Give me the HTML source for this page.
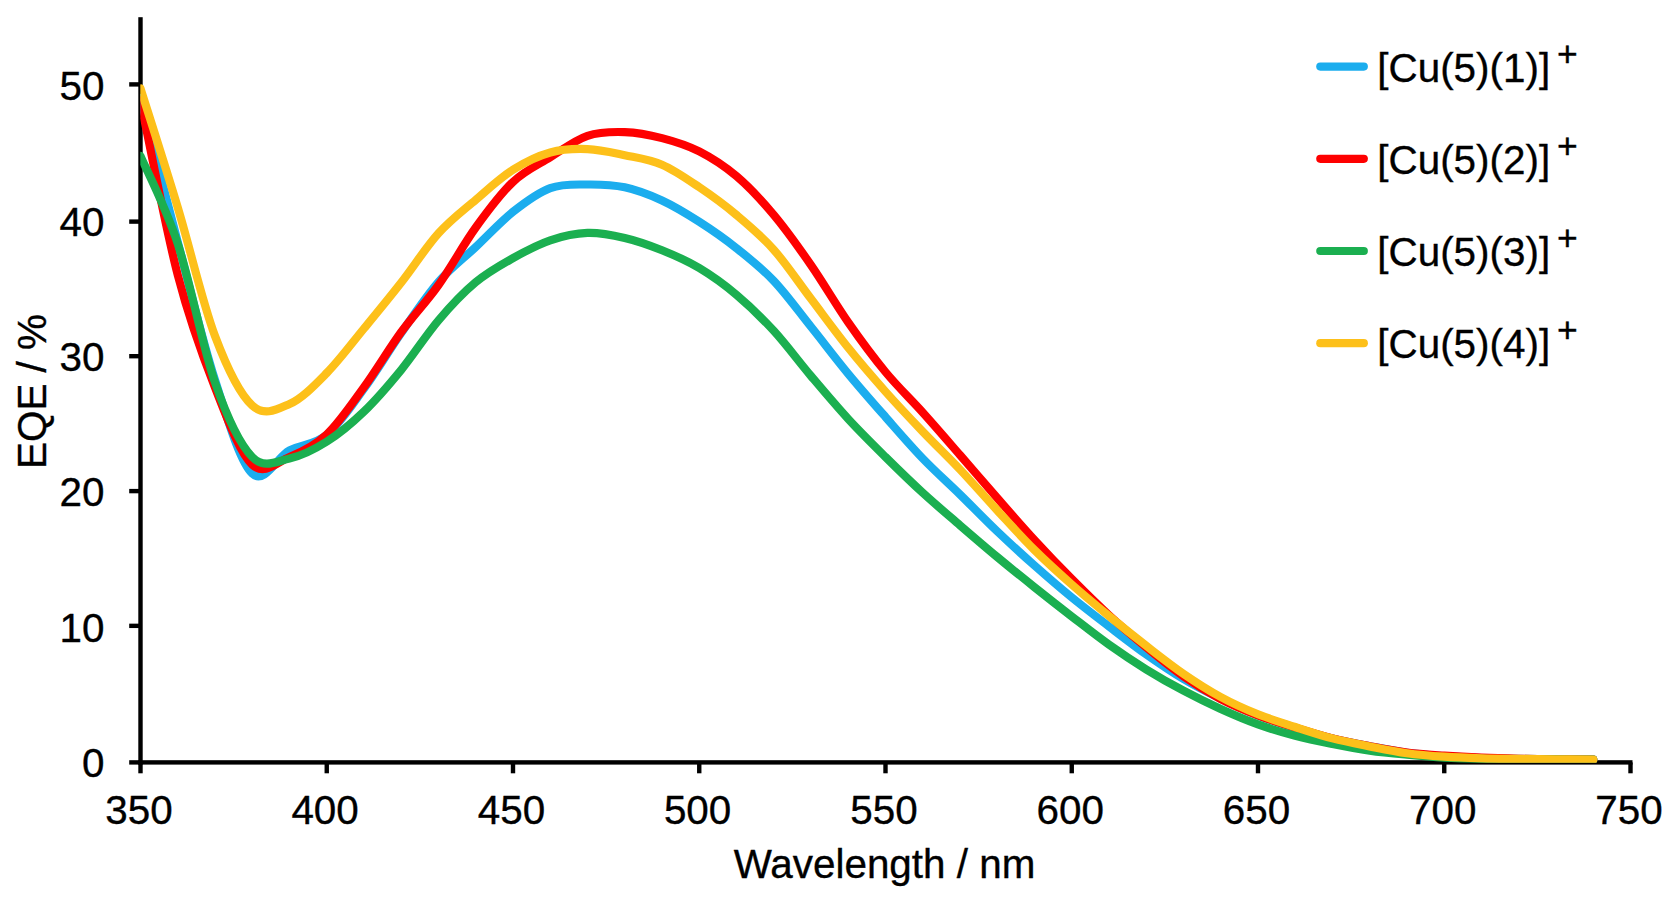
<!DOCTYPE html>
<html lang="en"><head><meta charset="utf-8"><title>EQE spectra</title>
<style>
html,body{margin:0;padding:0;background:#fff;}
body{width:1676px;height:900px;overflow:hidden;}
svg{display:block;}
text{font-family:"Liberation Sans", Arial, Helvetica, sans-serif;font-size:40.4px;fill:#000;stroke:#000;stroke-width:0.35px;}
.c{fill:none;stroke-width:8.2;stroke-linecap:round;stroke-linejoin:round;}
</style></head><body>
<svg width="1676" height="900" viewBox="0 0 1676 900">
<rect x="0" y="0" width="1676" height="900" fill="#fff"/>
<defs><clipPath id="pa"><rect x="140.3" y="0" width="1600" height="762.7"/></clipPath></defs>
<g fill="#000">
<rect x="138.30" y="17.2" width="4.40" height="747.40"/>
<rect x="138.30" y="760.20" width="1494.20" height="4.40"/>
<rect x="129.2" y="760.20" width="11.30" height="4.40"/>
<rect x="129.2" y="623.65" width="11.30" height="4.40"/>
<rect x="129.2" y="488.90" width="11.30" height="4.40"/>
<rect x="129.2" y="354.00" width="11.30" height="4.40"/>
<rect x="129.2" y="219.40" width="11.30" height="4.40"/>
<rect x="129.2" y="82.20" width="11.30" height="4.40"/>
<rect x="138.30" y="762.40" width="4.40" height="10.90"/>
<rect x="324.55" y="762.40" width="4.40" height="10.90"/>
<rect x="510.80" y="762.40" width="4.40" height="10.90"/>
<rect x="697.05" y="762.40" width="4.40" height="10.90"/>
<rect x="883.30" y="762.40" width="4.40" height="10.90"/>
<rect x="1069.55" y="762.40" width="4.40" height="10.90"/>
<rect x="1255.80" y="762.40" width="4.40" height="10.90"/>
<rect x="1442.05" y="762.40" width="4.40" height="10.90"/>
<rect x="1628.30" y="762.40" width="4.40" height="10.90"/>
</g>
<text x="104.5" y="776.9" text-anchor="end">0</text>
<text x="104.5" y="641.6" text-anchor="end">10</text>
<text x="104.5" y="506.3" text-anchor="end">20</text>
<text x="104.5" y="371.0" text-anchor="end">30</text>
<text x="104.5" y="235.7" text-anchor="end">40</text>
<text x="104.5" y="100.4" text-anchor="end">50</text>
<text x="138.9" y="824" text-anchor="middle">350</text>
<text x="325.1" y="824" text-anchor="middle">400</text>
<text x="511.4" y="824" text-anchor="middle">450</text>
<text x="697.6" y="824" text-anchor="middle">500</text>
<text x="883.9" y="824" text-anchor="middle">550</text>
<text x="1070.2" y="824" text-anchor="middle">600</text>
<text x="1256.4" y="824" text-anchor="middle">650</text>
<text x="1442.7" y="824" text-anchor="middle">700</text>
<text x="1628.9" y="824" text-anchor="middle">750</text>
<text x="884.5" y="878" text-anchor="middle">Wavelength / nm</text>
<text transform="translate(45.5 391.5) rotate(-90)" text-anchor="middle">EQE / %</text>
<g clip-path="url(#pa)">
<path class="c" stroke="#1BADEE" d="M140.50 98.00 C146.71 122.00 165.33 195.00 177.75 242.00 C190.17 289.00 202.58 341.42 215.00 380.00 C227.42 418.58 239.83 461.75 252.25 473.50 C264.67 485.25 277.08 456.92 289.50 450.50 C301.92 444.08 314.33 445.30 326.75 435.00 C339.17 424.70 351.58 405.70 364.00 388.70 C376.42 371.70 388.83 350.78 401.25 333.00 C413.67 315.22 426.08 296.33 438.50 282.00 C450.92 267.67 463.33 258.70 475.75 247.00 C488.17 235.30 500.58 221.62 513.00 211.80 C525.42 201.98 537.83 192.65 550.25 188.10 C562.67 183.55 575.08 184.63 587.50 184.50 C599.92 184.37 612.33 184.63 624.75 187.30 C637.17 189.97 649.58 194.75 662.00 200.50 C674.42 206.25 686.83 213.85 699.25 221.80 C711.67 229.75 724.08 238.35 736.50 248.20 C748.92 258.05 761.33 267.80 773.75 280.90 C786.17 294.00 798.58 311.32 811.00 326.80 C823.42 342.28 835.83 358.77 848.25 373.80 C860.67 388.83 873.08 402.88 885.50 417.00 C897.92 431.12 910.33 445.58 922.75 458.50 C935.17 471.42 947.58 482.35 960.00 494.50 C972.42 506.65 984.83 519.57 997.25 531.40 C1009.67 543.23 1022.08 554.50 1034.50 565.50 C1046.92 576.50 1059.33 587.23 1071.75 597.40 C1084.17 607.57 1096.58 616.98 1109.00 626.50 C1121.42 636.02 1133.83 645.73 1146.25 654.50 C1158.67 663.27 1171.08 671.72 1183.50 679.10 C1195.92 686.48 1208.33 692.75 1220.75 698.80 C1233.17 704.85 1245.58 710.57 1258.00 715.40 C1270.42 720.23 1282.83 723.95 1295.25 727.80 C1307.67 731.65 1320.08 735.43 1332.50 738.50 C1344.92 741.57 1357.33 743.82 1369.75 746.20 C1382.17 748.58 1394.58 751.13 1407.00 752.80 C1419.42 754.47 1431.83 755.32 1444.25 756.20 C1456.67 757.08 1469.08 757.65 1481.50 758.10 C1493.92 758.55 1506.33 758.70 1518.75 758.90 C1531.17 759.10 1543.58 759.17 1556.00 759.30 C1568.42 759.43 1587.04 759.63 1593.25 759.70"/>
<path class="c" stroke="#FE0000" d="M140.50 100.50 C146.71 129.58 165.33 227.17 177.75 275.00 C190.17 322.83 202.58 355.88 215.00 387.50 C227.42 419.12 239.83 453.12 252.25 464.70 C264.67 476.28 277.08 462.03 289.50 457.00 C301.92 451.97 314.33 446.13 326.75 434.50 C339.17 422.87 351.58 404.28 364.00 387.20 C376.42 370.12 388.83 349.03 401.25 332.00 C413.67 314.97 426.08 302.42 438.50 285.00 C450.92 267.58 463.33 244.68 475.75 227.50 C488.17 210.32 500.58 193.60 513.00 181.90 C525.42 170.20 537.83 164.98 550.25 157.30 C562.67 149.62 575.08 140.00 587.50 135.80 C599.92 131.60 612.33 131.72 624.75 132.10 C637.17 132.48 649.58 134.88 662.00 138.10 C674.42 141.32 686.83 145.05 699.25 151.40 C711.67 157.75 724.08 165.62 736.50 176.20 C748.92 186.78 761.33 200.08 773.75 214.90 C786.17 229.72 798.58 247.18 811.00 265.10 C823.42 283.02 835.83 304.58 848.25 322.40 C860.67 340.22 873.08 356.98 885.50 372.00 C897.92 387.02 910.33 398.67 922.75 412.50 C935.17 426.33 947.58 440.75 960.00 455.00 C972.42 469.25 984.83 483.83 997.25 498.00 C1009.67 512.17 1022.08 526.50 1034.50 540.00 C1046.92 553.50 1059.33 566.47 1071.75 579.00 C1084.17 591.53 1096.58 603.82 1109.00 615.20 C1121.42 626.58 1133.83 637.12 1146.25 647.30 C1158.67 657.48 1171.08 667.68 1183.50 676.30 C1195.92 684.92 1208.33 692.50 1220.75 699.00 C1233.17 705.50 1245.58 710.53 1258.00 715.30 C1270.42 720.07 1282.83 723.75 1295.25 727.60 C1307.67 731.45 1320.08 735.30 1332.50 738.40 C1344.92 741.50 1357.33 743.83 1369.75 746.20 C1382.17 748.57 1394.58 751.02 1407.00 752.60 C1419.42 754.18 1431.83 754.85 1444.25 755.70 C1456.67 756.55 1469.08 757.18 1481.50 757.70 C1493.92 758.22 1506.33 758.53 1518.75 758.80 C1531.17 759.07 1543.58 759.15 1556.00 759.30 C1568.42 759.45 1587.04 759.63 1593.25 759.70"/>
<path class="c" stroke="#1BAF50" d="M140.50 156.00 C146.71 170.62 165.33 205.95 177.75 243.70 C190.17 281.45 202.58 346.95 215.00 382.50 C227.42 418.05 239.83 444.35 252.25 457.00 C264.67 469.65 277.08 460.97 289.50 458.40 C301.92 455.83 314.33 449.42 326.75 441.60 C339.17 433.78 351.58 423.47 364.00 411.50 C376.42 399.53 388.83 385.00 401.25 369.80 C413.67 354.60 426.08 334.90 438.50 320.30 C450.92 305.70 463.33 292.57 475.75 282.20 C488.17 271.83 500.58 265.08 513.00 258.10 C525.42 251.12 537.83 244.50 550.25 240.30 C562.67 236.10 575.08 233.30 587.50 232.90 C599.92 232.50 612.33 235.02 624.75 237.90 C637.17 240.78 649.58 245.18 662.00 250.20 C674.42 255.22 686.83 260.57 699.25 268.00 C711.67 275.43 724.08 284.33 736.50 294.80 C748.92 305.27 761.33 317.27 773.75 330.80 C786.17 344.33 798.58 361.30 811.00 376.00 C823.42 390.70 835.83 405.50 848.25 419.00 C860.67 432.50 873.08 444.70 885.50 457.00 C897.92 469.30 910.33 481.42 922.75 492.80 C935.17 504.18 947.58 514.60 960.00 525.30 C972.42 536.00 984.83 546.68 997.25 557.00 C1009.67 567.32 1022.08 577.30 1034.50 587.20 C1046.92 597.10 1059.33 606.83 1071.75 616.40 C1084.17 625.97 1096.58 635.77 1109.00 644.60 C1121.42 653.43 1133.83 661.72 1146.25 669.40 C1158.67 677.08 1171.08 684.10 1183.50 690.70 C1195.92 697.30 1208.33 703.38 1220.75 709.00 C1233.17 714.62 1245.58 719.93 1258.00 724.40 C1270.42 728.87 1282.83 732.53 1295.25 735.80 C1307.67 739.07 1320.08 741.53 1332.50 744.00 C1344.92 746.47 1357.33 748.82 1369.75 750.60 C1382.17 752.38 1394.58 753.52 1407.00 754.70 C1419.42 755.88 1431.83 757.00 1444.25 757.70 C1456.67 758.40 1469.08 758.65 1481.50 758.90 C1493.92 759.15 1506.33 759.12 1518.75 759.20 C1531.17 759.28 1543.58 759.32 1556.00 759.40 C1568.42 759.48 1587.04 759.65 1593.25 759.70"/>
<path class="c" stroke="#FDC01A" d="M140.50 88.50 C146.71 108.33 165.33 166.25 177.75 207.50 C190.17 248.75 202.58 303.00 215.00 336.00 C227.42 369.00 239.83 394.17 252.25 405.50 C264.67 416.83 277.08 409.42 289.50 404.00 C301.92 398.58 314.33 385.58 326.75 373.00 C339.17 360.42 351.58 343.58 364.00 328.50 C376.42 313.42 388.83 298.37 401.25 282.50 C413.67 266.63 426.08 247.08 438.50 233.30 C450.92 219.52 463.33 210.38 475.75 199.80 C488.17 189.22 500.58 177.68 513.00 169.80 C525.42 161.92 537.83 155.95 550.25 152.50 C562.67 149.05 575.08 148.65 587.50 149.10 C599.92 149.55 612.33 152.60 624.75 155.20 C637.17 157.80 649.58 159.37 662.00 164.70 C674.42 170.03 686.83 178.82 699.25 187.20 C711.67 195.58 724.08 204.58 736.50 215.00 C748.92 225.42 761.33 235.73 773.75 249.70 C786.17 263.67 798.58 282.45 811.00 298.80 C823.42 315.15 835.83 332.33 848.25 347.80 C860.67 363.27 873.08 377.63 885.50 391.60 C897.92 405.57 910.33 418.62 922.75 431.60 C935.17 444.58 947.58 456.37 960.00 469.50 C972.42 482.63 984.83 496.98 997.25 510.40 C1009.67 523.82 1022.08 537.65 1034.50 550.00 C1046.92 562.35 1059.33 573.50 1071.75 584.50 C1084.17 595.50 1096.58 605.78 1109.00 616.00 C1121.42 626.22 1133.83 636.17 1146.25 645.80 C1158.67 655.43 1171.08 665.27 1183.50 673.80 C1195.92 682.33 1208.33 690.25 1220.75 697.00 C1233.17 703.75 1245.58 709.30 1258.00 714.30 C1270.42 719.30 1282.83 722.98 1295.25 727.00 C1307.67 731.02 1320.08 735.17 1332.50 738.40 C1344.92 741.63 1357.33 743.93 1369.75 746.40 C1382.17 748.87 1394.58 751.48 1407.00 753.20 C1419.42 754.92 1431.83 755.85 1444.25 756.70 C1456.67 757.55 1469.08 757.93 1481.50 758.30 C1493.92 758.67 1506.33 758.73 1518.75 758.90 C1531.17 759.07 1543.58 759.17 1556.00 759.30 C1568.42 759.43 1587.04 759.63 1593.25 759.70"/>
</g>
<line class="c" stroke="#1BADEE" x1="1320.3" y1="66.6" x2="1363.8" y2="66.6"/>
<text x="1377.3" y="81.6">[Cu(5)(1)]<tspan dx="7" dy="-16" font-size="35.5">+</tspan></text>
<line class="c" stroke="#FE0000" x1="1320.3" y1="158.8" x2="1363.8" y2="158.8"/>
<text x="1377.3" y="173.8">[Cu(5)(2)]<tspan dx="7" dy="-16" font-size="35.5">+</tspan></text>
<line class="c" stroke="#1BAF50" x1="1320.3" y1="251.0" x2="1363.8" y2="251.0"/>
<text x="1377.3" y="266.0">[Cu(5)(3)]<tspan dx="7" dy="-16" font-size="35.5">+</tspan></text>
<line class="c" stroke="#FDC01A" x1="1320.3" y1="343.2" x2="1363.8" y2="343.2"/>
<text x="1377.3" y="358.2">[Cu(5)(4)]<tspan dx="7" dy="-16" font-size="35.5">+</tspan></text>
</svg>
</body></html>
